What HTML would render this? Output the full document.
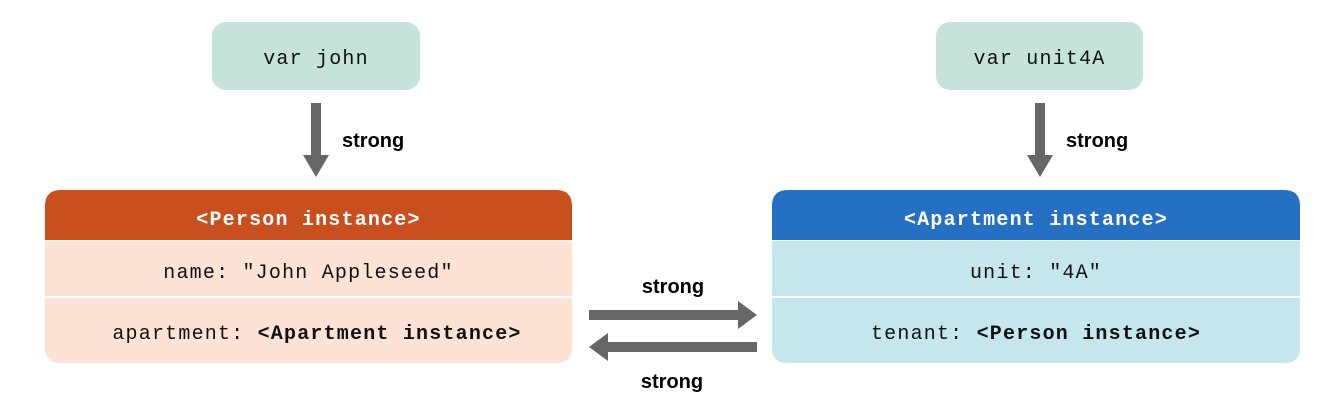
<!DOCTYPE html>
<html><head><meta charset="utf-8"><style>
html,body{margin:0;padding:0;background:#fff;}
svg text{font-family:"Liberation Mono",monospace;letter-spacing:1.2px;}
svg text.s{font-family:"Liberation Sans",sans-serif;font-weight:bold;font-size:20px;fill:#000;letter-spacing:0;}
</style></head><body>
<svg width="1344" height="410" viewBox="0 0 1344 410" xmlns="http://www.w3.org/2000/svg">
<rect x="212" y="22" width="208" height="68" rx="14" fill="#c5e3db"/>
<text x="316" y="64" font-size="20" text-anchor="middle" fill="#111">var john</text>
<rect x="936" y="22" width="207" height="68" rx="14" fill="#c5e3db"/>
<text x="1039.5" y="64" font-size="20" text-anchor="middle" fill="#111">var unit4A</text>
<polygon points="311,103 321,103 321,155 329,155 316,177 303,155 311,155" fill="#666"/>
<text class="s" x="342" y="147">strong</text>
<polygon points="1035,103 1045,103 1045,155 1053,155 1040,177 1027,155 1035,155" fill="#666"/>
<text class="s" x="1066" y="147">strong</text>
<path d="M45,240 V206 Q45,190 61,190 H556 Q572,190 572,206 V240 Z" fill="#c94f1e"/>
<path d="M45,241 H572 V347 Q572,363 556,363 H61 Q45,363 45,347 Z" fill="#fce3d5"/>
<line x1="45" y1="297" x2="572" y2="297" stroke="#fff" stroke-width="2"/>
<text x="308.5" y="225" font-size="20" font-weight="bold" text-anchor="middle" fill="#fff">&lt;Person instance&gt;</text>
<text x="308.5" y="278" font-size="20" text-anchor="middle" fill="#111">name: "John Appleseed"</text>
<text x="317" y="339" font-size="20" text-anchor="middle" fill="#111">apartment: <tspan font-weight="bold">&lt;Apartment instance&gt;</tspan></text>
<path d="M772,240 V206 Q772,190 788,190 H1284 Q1300,190 1300,206 V240 Z" fill="#2670c4"/>
<path d="M772,241 H1300 V347 Q1300,363 1284,363 H788 Q772,363 772,347 Z" fill="#c4e6ec"/>
<line x1="772" y1="297" x2="1300" y2="297" stroke="#fff" stroke-width="2"/>
<text x="1036" y="225" font-size="20" font-weight="bold" text-anchor="middle" fill="#fff">&lt;Apartment instance&gt;</text>
<text x="1036" y="278" font-size="20" text-anchor="middle" fill="#111">unit: "4A"</text>
<text x="1036" y="339" font-size="20" text-anchor="middle" fill="#111">tenant: <tspan font-weight="bold">&lt;Person instance&gt;</tspan></text>
<polygon points="589,310 738,310 738,301 757,315 738,329 738,320 589,320" fill="#666"/>
<polygon points="757,342 608,342 608,333 589,347 608,361 608,352 757,352" fill="#666"/>
<text class="s" x="673" y="293" text-anchor="middle">strong</text>
<text class="s" x="672" y="388" text-anchor="middle">strong</text>
</svg>
</body></html>
